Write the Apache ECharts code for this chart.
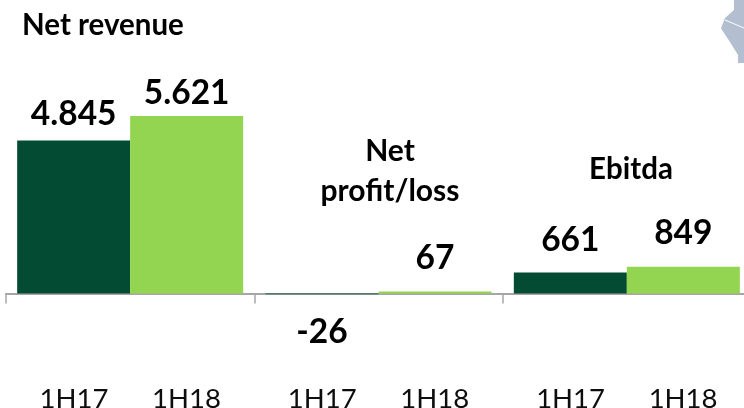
<!DOCTYPE html>
<html><head><meta charset="utf-8">
<style>html,body{margin:0;padding:0;background:#fff}#c{width:744px;height:408px}</style>
<script src="https://cdn.jsdelivr.net/npm/echarts@6/dist/echarts.min.js"></script>
</head><body><div id="c"></div>
<script>
const groups = ['Net revenue', 'Net profit/loss', 'Ebitda'];
const periods = ['1H17', '1H18'];
const values1H17 = [4845, -26, 661];
const values1H18 = [5621, 67, 849];
const distances1H17 = [9, 21, 15];
const distances1H18 = [6, 16, 16];
const fmt = v => String(v).replace(/(\d)(\d{3})$/, '$1.$2');
const font = 'Lato, Carlito, "Open Sans", sans-serif';
const mk = (name, vals, color, dist) => ({
  name, type: 'bar', barWidth: 113, barGap: 0, itemStyle: { color },
  data: vals.map((v, i) => ({
    value: v,
    label: { show: true, position: v < 0 ? 'bottom' : 'top', distance: dist[i],
      formatter: p => fmt(p.value), fontFamily: font, fontWeight: 'bold', fontSize: 33.5, color: '#000' }
  }))
});
const chart = echarts.init(document.getElementById('c'), null, { renderer: 'canvas' });
const richP = { width: 112.5, align: 'center', lineHeight: 22, fontFamily: font, fontSize: 27.5, color: '#0d0d0d' };
chart.setOption({
  animation: false,
  backgroundColor: '#fff',
  grid: { left: 6, top: 103.9, width: 745, height: 284.4, outerBoundsMode: 'none' },
  xAxis: [{
    type: 'category', data: groups, boundaryGap: true,
    axisLine: { onZero: true, lineStyle: { color: '#a6a6a6', width: 2 } },
    axisTick: { show: true, length: 10, lineStyle: { color: '#a6a6a6', width: 1.5 } },
    axisLabel: { show: false }
  }, {
    type: 'category', data: groups, position: 'bottom', boundaryGap: true,
    axisLine: { show: false, onZero: false }, axisTick: { show: false },
    axisLabel: {
      margin: 0, interval: 0,
      formatter: () => periods.map((p, i) => `{p${i}|${p}}`).join(''),
      rich: { p0: richP, p1: richP }
    }
  }],
  yAxis: { type: 'value', min: -3000, max: 6000, interval: 1000, show: false, splitLine: { show: false } },
  series: [
    mk(periods[0], values1H17, '#034b33', distances1H17),
    mk(periods[1], values1H18, '#93d451', distances1H18)
  ],
  graphic: [
    { type: 'text', x: 22, y: 10, style: { text: 'Net revenue', fontFamily: font, fontWeight: 'bold', fontSize: 29.5, fill: '#000' } },
    { type: 'text', x: 390, y: 131, style: { text: 'Net\nprofit/loss', align: 'center', fontFamily: font, fontWeight: 'bold', fontSize: 30, lineHeight: 40, fill: '#000' } },
    { type: 'text', x: 631, y: 154, style: { text: 'Ebitda', align: 'center', fontFamily: font, fontWeight: 'bold', fontSize: 29.5, fill: '#000' } },
    { type: 'polygon', shape: { points: [[734,0],[744,0],[744,63],[738,63],[738,55],[730,42],[722,30],[721,28],[725,18],[734,10]] }, style: { fill: '#b3bed1' } },
    { type: 'line', shape: { x1: 725, y1: 20, x2: 744, y2: 28 }, style: { stroke: '#fff', lineWidth: 1 } }
  ]
});
</script></body></html>
